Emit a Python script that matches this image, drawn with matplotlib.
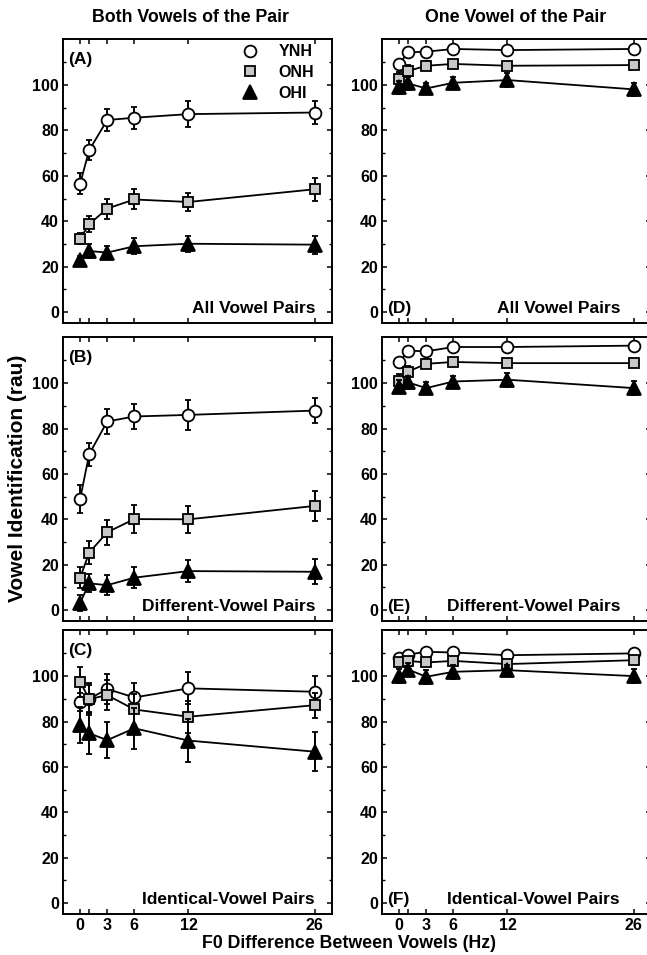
import numpy as np
import matplotlib
matplotlib.use("Agg")
import matplotlib.pyplot as plt
from matplotlib.lines import Line2D

plt.rcParams['font.family'] = ['Liberation Sans', 'DejaVu Sans']
plt.rcParams['font.weight'] = 'bold'

# F0 difference (Hz)
f0 = [0, 1, 3, 6, 12, 26]
xtick_labels = ['0', '', '3', '6', '12', '26']
groups = ['YNH', 'ONH', 'OHI']

# (A) both vowels, all pairs
ynh_a = [56.6, 71.3, 84.6, 85.6, 87.2, 87.9]
ynh_a_err = [4.5, 4.5, 4.8, 4.8, 5.7, 5.0]
onh_a = [32.4, 38.7, 45.6, 49.6, 48.5, 54.1]
onh_a_err = [2.5, 3.5, 4.4, 4.4, 4.0, 5.0]
ohi_a = [23.1, 26.9, 26.2, 29.0, 30.1, 29.7]
ohi_a_err = [1.5, 3.0, 3.0, 3.5, 3.5, 4.0]

# (B) both vowels, different-vowel pairs
ynh_b = [49.0, 68.7, 83.1, 85.3, 86.0, 87.9]
ynh_b_err = [6.0, 5.0, 5.5, 5.5, 6.5, 5.5]
onh_b = [14.3, 25.3, 34.3, 40.1, 40.0, 45.9]
onh_b_err = [4.5, 5.0, 5.5, 6.0, 6.0, 6.5]
ohi_b = [3.2, 11.8, 11.0, 14.3, 17.2, 16.9]
ohi_b_err = [3.5, 4.0, 4.5, 4.5, 5.0, 5.5]

# (C) both vowels, identical-vowel pairs
ynh_c = [88.7, 90.0, 94.3, 90.6, 94.6, 93.1]
ynh_c_err = [4.0, 6.0, 6.5, 6.5, 7.0, 7.0]
onh_c = [97.5, 89.9, 91.6, 85.3, 82.1, 87.2]
onh_c_err = [6.5, 7.0, 6.5, 7.0, 7.0, 5.5]
ohi_c = [78.4, 74.8, 71.8, 77.0, 71.6, 66.7]
ohi_c_err = [8.0, 9.0, 8.0, 9.0, 9.5, 8.5]

# (D) one vowel, all pairs
ynh_d = [109.3, 114.4, 114.7, 115.9, 115.4, 115.9]
ynh_d_err = [1.5, 1.5, 1.5, 1.5, 1.5, 1.5]
onh_d = [102.6, 106.2, 108.5, 109.3, 108.5, 108.8]
onh_d_err = [3.0, 2.5, 2.0, 1.5, 1.5, 1.5]
ohi_d = [99.0, 100.7, 98.5, 101.0, 102.2, 98.1]
ohi_d_err = [3.0, 3.0, 2.5, 2.5, 3.0, 3.0]

# (E) one vowel, different-vowel pairs
ynh_e = [109.1, 114.3, 114.0, 115.9, 115.9, 116.5]
ynh_e_err = [1.5, 1.5, 1.5, 1.5, 1.5, 1.5]
onh_e = [101.0, 105.1, 108.5, 109.3, 108.8, 108.8]
onh_e_err = [3.0, 2.5, 2.0, 1.5, 1.5, 1.5]
ohi_e = [98.5, 100.3, 97.8, 100.7, 101.5, 97.8]
ohi_e_err = [3.0, 3.0, 2.5, 2.5, 3.0, 3.0]

# (F) one vowel, identical-vowel pairs
ynh_f = [107.8, 109.5, 110.7, 110.4, 109.2, 110.0]
ynh_f_err = [1.5, 1.5, 1.5, 1.5, 1.5, 1.5]
onh_f = [106.0, 106.7, 106.0, 106.7, 105.3, 107.0]
onh_f_err = [1.5, 1.5, 1.5, 1.5, 1.5, 1.5]
ohi_f = [100.0, 102.9, 99.7, 101.9, 102.6, 100.0]
ohi_f_err = [3.0, 3.0, 3.0, 3.0, 2.5, 3.0]

panels = [
    ('(A)', 'All Vowel Pairs', 0, 0, (ynh_a, ynh_a_err), (onh_a, onh_a_err), (ohi_a, ohi_a_err)),
    ('(B)', 'Different-Vowel Pairs', 1, 0, (ynh_b, ynh_b_err), (onh_b, onh_b_err), (ohi_b, ohi_b_err)),
    ('(C)', 'Identical-Vowel Pairs', 2, 0, (ynh_c, ynh_c_err), (onh_c, onh_c_err), (ohi_c, ohi_c_err)),
    ('(D)', 'All Vowel Pairs', 0, 1, (ynh_d, ynh_d_err), (onh_d, onh_d_err), (ohi_d, ohi_d_err)),
    ('(E)', 'Different-Vowel Pairs', 1, 1, (ynh_e, ynh_e_err), (onh_e, onh_e_err), (ohi_e, ohi_e_err)),
    ('(F)', 'Identical-Vowel Pairs', 2, 1, (ynh_f, ynh_f_err), (onh_f, onh_f_err), (ohi_f, ohi_f_err)),
]

styles = [
    dict(marker='o', mfc='white', ms=8.5, zorder=3),
    dict(marker='s', mfc='#c8c8c8', ms=7, zorder=4),
    dict(marker='^', mfc='black', ms=10, zorder=5),
]

fig = plt.figure(figsize=(6.47, 9.55), dpi=100)

lefts = [63 / 647, 382 / 647]
bottoms = [0.6618, 0.3497, 0.0429]
w, h = 269 / 647, 0.2974
fs = 12.5

axes = {}
for lab, corner, r, c, *series in panels:
    ax = fig.add_axes([lefts[c], bottoms[r], w, h])
    axes[lab] = ax
    for (vals, errs), st in zip(series, styles):
        ax.errorbar(f0, vals, yerr=errs, color='black', lw=1.3, elinewidth=1.4,
                    capsize=2.5, capthick=1.4, mec='black', mew=1.3, **st)
    ax.set_xlim(-1.9, 27.9)
    ax.set_ylim(-4.8, 120.3)
    ax.set_xticks(f0)
    ax.set_yticks(np.arange(0, 101, 20))
    ax.set_yticks(np.arange(10, 120, 20), minor=True)
    ax.tick_params(direction='in', top=True, right=True, length=3.5, width=1.1,
                   labelsize=11.5, pad=3)
    ax.tick_params(which='minor', direction='in', right=True, length=2.5, width=1.0)
    if r == 2:
        ax.set_xticklabels(xtick_labels)
    else:
        ax.set_xticklabels([])
    for sp in ax.spines.values():
        sp.set_linewidth(1.4)
    if c == 0:
        ax.text(0.02, 0.955, lab, transform=ax.transAxes, fontsize=fs,
                fontweight='bold', ha='left', va='top')
        ax.text(0.937, 0.05, corner, transform=ax.transAxes, fontsize=fs,
                fontweight='bold', ha='right', va='center')
    else:
        ax.text(0.02, 0.05, lab, transform=ax.transAxes, fontsize=fs,
                fontweight='bold', ha='left', va='center')
        ax.text(0.885, 0.05, corner, transform=ax.transAxes, fontsize=fs,
                fontweight='bold', ha='right', va='center')

# legend in panel A
handles = [Line2D([], [], ls='none', color='black', mec='black', mew=1.3,
                  **{k: v for k, v in st.items() if k != 'zorder'})
           for st in styles]
axes['(A)'].legend(handles, groups, loc='upper right', frameon=False, fontsize=11.5,
                   bbox_to_anchor=(0.975, 1.02), handletextpad=0.8, labelspacing=0.35,
                   borderaxespad=0.3)

fig.text(190 / 647, 1 - 18 / 955, 'Both Vowels of the Pair', ha='center', va='center',
         fontsize=12.8, fontweight='bold')
fig.text(516 / 647, 1 - 18 / 955, 'One Vowel of the Pair', ha='center', va='center',
         fontsize=12.8, fontweight='bold')
fig.text(18 / 647, 1 - 478 / 955, 'Vowel Identification (rau)', rotation=90, ha='center',
         va='center', fontsize=15, fontweight='bold')
fig.text(349 / 647, 1 - 943 / 955, 'F0 Difference Between Vowels (Hz)', ha='center',
         va='center', fontsize=12.8, fontweight='bold')

fig.savefig('out.png', dpi=100)
